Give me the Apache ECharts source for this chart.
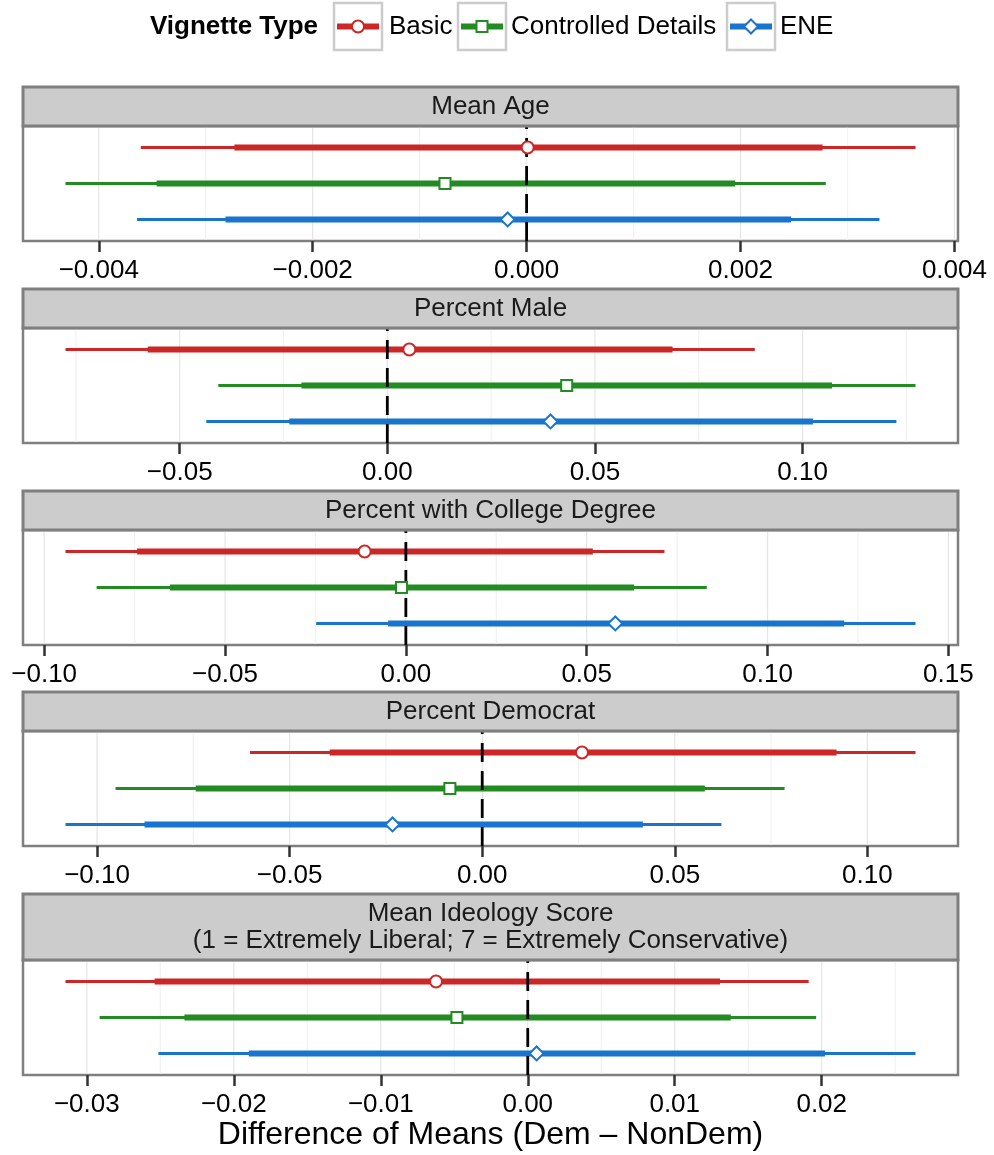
<!DOCTYPE html>
<html><head><meta charset="utf-8">
<script src="https://cdn.jsdelivr.net/npm/echarts@6/dist/echarts.min.js"></script>
<style>html,body{margin:0;padding:0;background:#fff}#c{width:994px;height:1155px}</style>
</head><body><div id="c"></div>
<script>
// ---- data ----
const vignetteTypes = ['Basic', 'Controlled Details', 'ENE'];
const measures = ['Mean Age', 'Percent Male', 'Percent with College Degree', 'Percent Democrat',
  'Mean Ideology Score\n(1 = Extremely Liberal; 7 = Extremely Conservative)'];

const basicLo95 = [-0.003607, -0.0775, -0.0941, -0.0603, -0.03145];
const basicLo90 = [-0.002732, -0.0577, -0.0743, -0.0396, -0.02539];
const basicEst  = [0.00001, 0.0053, -0.0114, 0.0259, -0.00624];
const basicHi90 = [0.002767, 0.0687, 0.0517, 0.0920, 0.01308];
const basicHi95 = [0.003636, 0.0885, 0.0715, 0.1125, 0.01911];

const controlledLo95 = [-0.004311, -0.0407, -0.0855, -0.0952, -0.02913];
const controlledLo90 = [-0.003459, -0.0207, -0.0652, -0.0744, -0.02336];
const controlledEst  = [-0.000763, 0.0432, -0.0012, -0.0084, -0.00482];
const controlledHi90 = [0.001951, 0.1071, 0.0631, 0.0578, 0.01381];
const controlledHi95 = [0.002797, 0.1272, 0.0832, 0.0785, 0.01962];

const eneLo95 = [-0.003642, -0.0436, -0.0248, -0.1082, -0.02513];
const eneLo90 = [-0.002815, -0.0236, -0.0049, -0.0877, -0.01898];
const eneEst  = [-0.000177, 0.0393, 0.0579, -0.0233, 0.00060];
const eneHi90 = [0.002472, 0.1025, 0.1212, 0.0417, 0.02022];
const eneHi95 = [0.003299, 0.1226, 0.1409, 0.0621, 0.02638];

const ageTicks = [-0.004, -0.002, 0, 0.002, 0.004];
const maleTicks = [-0.05, 0, 0.05, 0.10];
const collegeTicks = [-0.10, -0.05, 0, 0.05, 0.10, 0.15];
const democratTicks = [-0.10, -0.05, 0, 0.05, 0.10];
const ideologyTicks = [-0.03, -0.02, -0.01, 0, 0.01, 0.02];
const tickDecimals = [3, 2, 2, 2, 2];
const xTitle = 'Difference of Means (Dem \u2013 NonDem)';
const legendTitle = 'Vignette Type';

// ---- styling / layout ----
const allTicks = [ageTicks, maleTicks, collegeTicks, democratTicks, ideologyTicks];
const typeData = [
  [basicLo95, basicLo90, basicEst, basicHi90, basicHi95],
  [controlledLo95, controlledLo90, controlledEst, controlledHi90, controlledHi95],
  [eneLo95, eneLo90, eneEst, eneHi90, eneHi95]
];
const colors = ['#CD2626', '#228B22', '#1874CD'];
const symbols = ['circle', 'rect', 'diamond'];
const symbolSizes = [12, 11, 14];
const FONT = "'Liberation Sans', Arial, Helvetica, sans-serif";
const stripTop = [87, 289, 491, 692, 894];
const stripH = [39, 39, 39, 39, 66];
const plotH = 115;
const gridLeft = 23, gridWidth = 935;

function fmt(dec) {
  return function (v) {
    if (Math.abs(v) < 1e-12) v = 0;
    return v.toFixed(dec).replace('-', '\u2212');
  };
}

const grids = [], xAxes = [], yAxes = [], series = [], graphics = [];

measures.forEach(function (m, p) {
  const plotTop = stripTop[p] + stripH[p];
  grids.push({ left: gridLeft, top: plotTop, width: gridWidth, height: plotH,
    show: true, borderColor: '#7f7f7f', borderWidth: 2.5, backgroundColor: '#fff',
    containLabel: false, outerBoundsMode: 'none' });

  let lo = Infinity, hi = -Infinity;
  typeData.forEach(function (t) { lo = Math.min(lo, t[0][p]); hi = Math.max(hi, t[4][p]); });
  const pad = 0.05 * (hi - lo);
  const xmin = lo - pad, xmax = hi + pad;
  const ticks = allTicks[p];

  const xa = {
    type: 'value', gridIndex: p, min: xmin, max: xmax, position: 'bottom',
    axisLine: { show: false, onZero: false },
    axisTick: { show: true, customValues: ticks, length: 11, inside: false,
      lineStyle: { color: '#333333', width: 2.5 } },
    axisLabel: { customValues: ticks, formatter: fmt(tickDecimals[p]), fontSize: 26,
      color: '#000', margin: 17, fontFamily: FONT },
    splitLine: { show: false }
  };
  if (p === measures.length - 1) {
    xa.name = xTitle; xa.nameLocation = 'middle'; xa.nameGap = 44;
    xa.nameTextStyle = { fontSize: 32, color: '#000', fontFamily: FONT };
  }
  xAxes.push(xa);
  yAxes.push({ type: 'value', gridIndex: p, min: 0.4, max: 3.6, inverse: true, show: false });

  // grid lines (major at tick values, minor halfway)
  const step = ticks[1] - ticks[0];
  const gl = ticks.map(function (v) { return [v, 0.4, 1]; });
  for (let v = ticks[0] - step / 2; v < xmax; v += step) {
    if (v > xmin) gl.push([v, 0.4, 0]);
  }
  series.push({
    type: 'custom', xAxisIndex: p, yAxisIndex: p, z: 1, silent: true,
    encode: { x: 0, y: 1 }, data: gl,
    renderItem: function (params, api) {
      const a = api.coord([api.value(0), 0.4]), b = api.coord([api.value(0), 3.6]);
      return { type: 'line', shape: { x1: a[0], y1: a[1] + 1, x2: b[0], y2: b[1] - 1 },
        style: { stroke: api.value(2) ? '#e5e5e5' : '#f2f2f2', lineWidth: 1.2 } };
    }
  });

  // error bars
  typeData.forEach(function (t, k) {
    const c = colors[k];
    series.push({
      type: 'custom', name: vignetteTypes[k], xAxisIndex: p, yAxisIndex: p, z: 2, silent: true,
      encode: { x: [0, 1, 3, 4], y: 5 },
      data: [[t[0][p], t[1][p], t[2][p], t[3][p], t[4][p], k + 1]],
      renderItem: function (params, api) {
        const y = api.value(5);
        const p1 = api.coord([api.value(0), y]), p2 = api.coord([api.value(4), y]);
        const q1 = api.coord([api.value(1), y]), q2 = api.coord([api.value(3), y]);
        return { type: 'group', children: [
          { type: 'line', shape: { x1: p1[0], y1: p1[1], x2: p2[0], y2: p2[1] },
            style: { stroke: c, lineWidth: 3 } },
          { type: 'line', shape: { x1: q1[0], y1: q1[1], x2: q2[0], y2: q2[1] },
            style: { stroke: c, lineWidth: 6 } }
        ] };
      }
    });
  });

  // zero reference line
  series.push({
    type: 'line', xAxisIndex: p, yAxisIndex: p, z: 3, silent: true, symbol: 'none',
    data: [[0, 3.6], [0, 0.4]],
    lineStyle: { color: '#000', width: 2.8, type: [19, 9] }
  });

  // point estimates
  typeData.forEach(function (t, k) {
    series.push({
      type: 'scatter', name: vignetteTypes[k], xAxisIndex: p, yAxisIndex: p, z: 4, silent: true,
      symbol: symbols[k], symbolSize: symbolSizes[k],
      itemStyle: { color: '#fff', borderColor: colors[k], borderWidth: 2, opacity: 1 },
      data: [[t[2][p], k + 1]]
    });
  });

  // strip
  graphics.push({
    type: 'rect', shape: { x: gridLeft, y: stripTop[p], width: gridWidth, height: stripH[p] },
    style: { fill: '#cccccc', stroke: '#7f7f7f', lineWidth: 3 }, z: 10
  });
  graphics.push({
    type: 'text', x: gridLeft + gridWidth / 2, y: stripTop[p] + stripH[p] / 2, z: 11,
    style: { text: m, fontSize: 26, fontFamily: FONT, fill: '#1a1a1a', lineHeight: 27,
      align: 'center', verticalAlign: 'middle', textAlign: 'center', textVerticalAlign: 'middle' }
  });
});

// legend
const legY = 26.5;
graphics.push({ type: 'text', x: 150, y: legY, z: 11,
  style: { text: legendTitle, fontSize: 26, fontWeight: 'bold', fontFamily: FONT, fill: '#000',
    align: 'left', verticalAlign: 'middle', textAlign: 'left', textVerticalAlign: 'middle' } });
const keyX = [334, 458, 727];
const labX = [389, 511, 780];
vignetteTypes.forEach(function (name, k) {
  const x0 = keyX[k], w = 48, cx = x0 + w / 2, c = colors[k];
  graphics.push({ type: 'rect', shape: { x: x0, y: 3, width: w, height: 47 },
    style: { fill: '#fff', stroke: '#cccccc', lineWidth: 2.5 }, z: 10 });
  graphics.push({ type: 'line', shape: { x1: x0 + 3, y1: legY, x2: x0 + w - 3, y2: legY },
    style: { stroke: c, lineWidth: 6 }, z: 11 });
  let mk;
  if (k === 0) mk = { type: 'circle', shape: { cx: cx, cy: legY, r: 6 } };
  else if (k === 1) mk = { type: 'rect', shape: { x: cx - 5.5, y: legY - 5.5, width: 11, height: 11 } };
  else mk = { type: 'polygon', shape: { points: [[cx, legY - 7], [cx + 7, legY], [cx, legY + 7], [cx - 7, legY]] } };
  mk.style = { fill: '#fff', stroke: c, lineWidth: 2 }; mk.z = 12;
  graphics.push(mk);
  graphics.push({ type: 'text', x: labX[k], y: legY, z: 11,
    style: { text: name, fontSize: 26, fontFamily: FONT, fill: '#000',
      align: 'left', verticalAlign: 'middle', textAlign: 'left', textVerticalAlign: 'middle' } });
});

const chart = echarts.init(document.getElementById('c'));
chart.setOption({
  animation: false,
  backgroundColor: '#fff',
  textStyle: { fontFamily: FONT },
  grid: grids, xAxis: xAxes, yAxis: yAxes, series: series, graphic: graphics
});
</script></body></html>
